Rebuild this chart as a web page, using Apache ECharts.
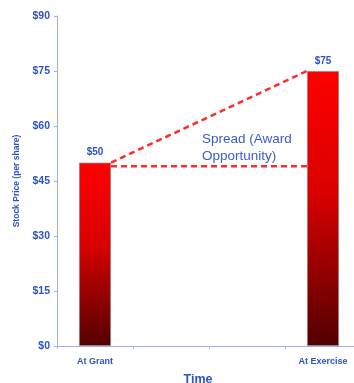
<!DOCTYPE html>
<html>
<head>
<meta charset="utf-8">
<script src="https://cdn.jsdelivr.net/npm/echarts@6/dist/echarts.min.js"></script>
<style>
  html, body { margin: 0; padding: 0; background: #fff; }
  #main { width: 354px; height: 383px; }
</style>
</head>
<body>
<div id="main"></div>
<script>
// categories: two real stages, the blank ones just space them out
var categories = ['At Grant', '', '', 'At Exercise'];
var prices = [50, null, null, 75];
var spreadBase = 49; // level of the horizontal dashed line
var yTicks = ['$0', '$15', '$30', '$45', '$60', '$75', '$90'];

var chartDom = document.getElementById('main');
var myChart = echarts.init(chartDom);

var blue = '#2f52c4';
var axisBlue = '#9fb2e8';
var gridLeft = 57, gridWidth = 304;
var barWidth = 32;
var catWidth = gridWidth / categories.length;
var half = barWidth / 2 / catWidth;

// edges of the two bars in value units of the hidden x axis
var grantIdx = 0, exIdx = 3;
var grantRight = grantIdx + 0.5 + half;
var exLeft = exIdx + 0.5 - half;

var option = {
  animation: false,
  textStyle: { fontFamily: 'Liberation Sans, Arial, sans-serif' },
  grid: {
    left: gridLeft, top: 16, width: gridWidth, height: 330,
    outerBoundsMode: 'none', containLabel: false
  },
  xAxis: [
    {
      type: 'category',
      data: categories,
      name: 'Time',
      nameLocation: 'middle',
      nameGap: 27,
      nameTextStyle: { color: blue, fontWeight: 'bold', fontSize: 12.5, padding: [0, 22, 0, 0] },
      axisLine: { lineStyle: { color: axisBlue, width: 1 } },
      axisTick: { show: true, length: 3, lineStyle: { color: axisBlue } },
      axisLabel: { color: blue, fontSize: 9, fontWeight: 'bold', margin: 11 }
    },
    {
      type: 'value',
      min: 0,
      max: categories.length,
      show: false
    }
  ],
  yAxis: {
    type: 'value',
    min: 0,
    max: 90,
    interval: 15,
    name: 'Stock Price (per share)',
    nameLocation: 'middle',
    nameRotate: 90,
    nameGap: 34,
    nameTextStyle: { color: blue, fontSize: 8.5, fontWeight: 'bold' },
    axisLine: { show: true, lineStyle: { color: axisBlue, width: 1 } },
    axisTick: { show: true, length: 3, lineStyle: { color: axisBlue } },
    splitLine: { show: false },
    axisLabel: {
      color: blue,
      fontSize: 10.5,
      fontWeight: 'bold',
      margin: 7,
      formatter: function (v) { return yTicks[v / 15]; }
    }
  },
  series: [
    {
      type: 'bar',
      data: prices,
      barWidth: barWidth,
      z: 3,
      itemStyle: {
        borderColor: '#8a8a8a',
        borderWidth: 0.8,
        color: new echarts.graphic.LinearGradient(0, 0, 0, 1, [
          { offset: 0, color: '#ff0000' },
          { offset: 0.45, color: '#d80000' },
          { offset: 1, color: '#520000' }
        ])
      },
      label: {
        show: true,
        position: 'top',
        distance: 5,
        color: blue,
        fontSize: 10,
        fontWeight: 'bold',
        formatter: function (p) { return '$' + p.value; }
      }
    },
    {
      type: 'line',
      xAxisIndex: 1,
      data: [[grantRight, prices[grantIdx]], [exLeft, prices[exIdx]]],
      symbol: 'none',
      z: 2,
      lineStyle: { color: '#ff2a2a', width: 2.5, type: [6, 4] }
    },
    {
      type: 'line',
      xAxisIndex: 1,
      data: [[grantRight, spreadBase], [exLeft, spreadBase]],
      symbol: 'none',
      z: 2,
      lineStyle: { color: '#ff2a2a', width: 2.5, type: [6, 4] }
    }
  ],
  graphic: [
    {
      type: 'text',
      left: 202,
      top: 131,
      style: {
        text: 'Spread (Award\nOpportunity)',
        fill: '#3a5cc8',
        font: '13.5px "Liberation Sans", Arial, sans-serif',
        lineHeight: 17
      }
    }
  ]
};

myChart.setOption(option);
</script>
</body>
</html>
